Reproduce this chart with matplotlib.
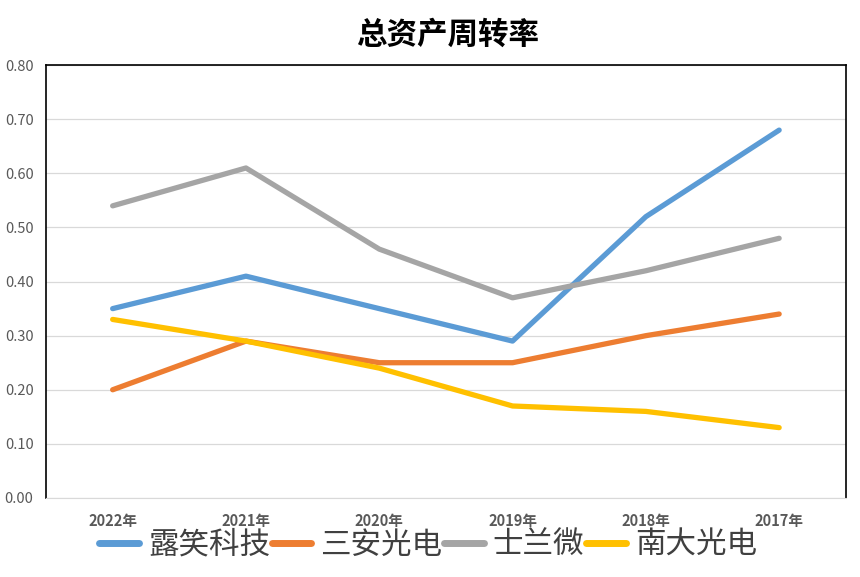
import matplotlib
matplotlib.use('Agg')
import matplotlib.pyplot as plt

plt.rcParams['font.family'] = ['Noto Sans CJK SC', 'DejaVu Sans']

years = ['2022年', '2021年', '2020年', '2019年', '2018年', '2017年']
lxkj = [0.35, 0.41, 0.35, 0.29, 0.52, 0.68]
sagd = [0.20, 0.29, 0.25, 0.25, 0.30, 0.34]
slw = [0.54, 0.61, 0.46, 0.37, 0.42, 0.48]
ndgd = [0.33, 0.29, 0.24, 0.17, 0.16, 0.13]
names = ['露笑科技', '三安光电', '士兰微', '南大光电']
colors = ['#5B9BD5', '#ED7D31', '#A5A5A5', '#FFC000']

fig = plt.figure(figsize=(8.6, 5.77), dpi=100)
ax = fig.add_axes([0.0535, 0.137, 0.930, 0.750])

x = range(len(years))
for vals, name, c in zip([lxkj, sagd, slw, ndgd], names, colors):
    ax.plot(x, vals, color=c, lw=3.8, label=name, solid_capstyle='round')

ax.set_xlim(-0.5, 5.5)
ax.set_ylim(0, 0.8)
ax.set_yticks([i / 10 for i in range(9)])
ax.set_yticklabels(['%.2f' % (i / 10) for i in range(9)], fontsize=10.5, color='#595959')
ax.set_xticks(list(x))
ax.set_xticklabels(years, fontsize=10.5, fontweight='bold', color='#595959')
ax.tick_params(axis='both', length=0)
ax.tick_params(axis='y', pad=9)
ax.tick_params(axis='x', pad=11)
ax.grid(axis='y', color='#D9D9D9', lw=0.9)
ax.set_axisbelow(True)
for s in ['left', 'top', 'right']:
    ax.spines[s].set_color('black')
    ax.spines[s].set_linewidth(1.2)
ax.spines['bottom'].set_color('#D9D9D9')

fig.suptitle('总资产周转率', x=0.52, y=0.94, va='center', fontsize=22, fontweight='bold', color='black')

leg = ax.legend(loc='center', bbox_to_anchor=(0.4775, -0.109), ncol=4, frameon=False,
                fontsize=22, handlelength=1.3, handletextpad=0.3, columnspacing=0.05,
                labelcolor='#404040', borderaxespad=0, borderpad=0)
for h in leg.get_lines():
    h.set_linewidth(5)

plt.savefig('out.png', dpi=100)
